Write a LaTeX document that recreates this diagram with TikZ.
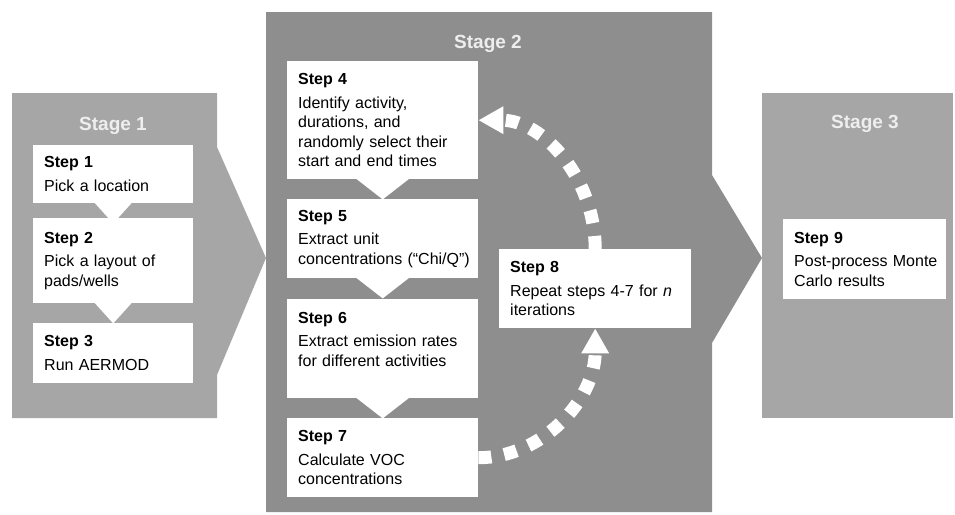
\documentclass[tikz,border=0pt]{standalone}
\usepackage{fontspec}
\setmainfont{Liberation Sans}
\usetikzlibrary{arrows.meta}

\definecolor{stagelight}{RGB}{166,166,166}
\definecolor{stagedark}{RGB}{142,142,142}
\definecolor{stagetext}{RGB}{238,238,238}
\newcommand{\stepfont}{\fontsize{16}{19.5}\selectfont}

\begin{document}
\begin{tikzpicture}[x=1pt,y=-1pt,
        stepbox/.style={fill=white, anchor=north west, align=left, inner xsep=11pt, inner ysep=0pt, font=\stepfont},
        stagelabel/.style={anchor=base, text=stagetext, font=\fontsize{19}{23}\selectfont\bfseries},
        loopline/.style={white, line width=13pt, dash pattern=on 13pt off 13pt, -{Triangle[length=25pt,width=26pt]}}]
        \useasboundingbox (0,0) rectangle (955,514);

        % Draw the stages
        \fill[stagelight] (12,93) -- (217,93) -- (217,147) -- (266,258) -- (217,375) -- (217,418) -- (12,418) -- cycle;
        \fill[stagelight] (762,93) rectangle (953,418);
        \fill[stagedark] (266,12) -- (712,12) -- (712,175) -- (762,258) -- (712,343) -- (712,512) -- (266,512) -- cycle;

        \node[stagelabel] (st1) at (113,130) {Stage 1};
        \node[stagelabel] (st2) at (488,48) {Stage 2};
        \node[stagelabel] (st3) at (865,128) {Stage 3};

        % Define nodes in Stage 1
        \node[stepbox, text width=138pt, minimum height=58pt] (s1) at (33,145) {\textbf{Step 1}\\[4pt]Pick a location};
        \node[stepbox, text width=138pt, minimum height=85pt] (s2) at (33,218) {\textbf{Step 2}\\[4pt]Pick a layout of\\pads/wells};
        \node[stepbox, text width=138pt, minimum height=60pt] (s3) at (33,323) {\textbf{Step 3}\\[4pt]Run AERMOD};

        % Define nodes in Stage 2
        \node[stepbox, text width=169pt, minimum height=118pt] (s4) at (287,61) {\textbf{Step 4}\\[4pt]Identify activity,\\durations, and\\randomly select their\\start and end times};
        \node[stepbox, text width=169pt, minimum height=79pt] (s5) at (287,199) {\textbf{Step 5}\\[4pt]Extract unit\\\mbox{concentrations (“Chi/Q”)}};
        \node[stepbox, text width=169pt, minimum height=99pt] (s6) at (287,299) {\textbf{Step 6}\\[4pt]Extract emission rates\\for different activities\\\mbox{}};
        \node[stepbox, text width=169pt, minimum height=79pt] (s7) at (287,418) {\textbf{Step 7}\\[4pt]Calculate VOC\\concentrations};
        \node[stepbox, text width=170pt, minimum height=79pt] (s8) at (499,249) {\textbf{Step 8}\\[4pt]\mbox{Repeat steps 4-7 for \textit{n}}\\iterations};

        % Define nodes in Stage 3
        \node[stepbox, text width=141pt, minimum height=80pt] (s9) at (783,219) {\textbf{Step 9}\\[4pt]\mbox{Post-process Monte}\\Carlo results};

        % Draw the pointers between steps
        \foreach \a/\w in {s1/19,s2/19,s4/27,s5/27,s6/27}
            \fill[white] ([xshift=-\w pt,yshift=1pt]\a.south) -- ([yshift=-20pt]\a.south) -- ([xshift=\w pt,yshift=1pt]\a.south) -- cycle;

        % Draw the repeat loop
        \draw[loopline] (s7.east) .. controls +(64,0) and +(0,71) .. (s8.south);
        \draw[loopline] (s8.north) .. controls +(0,-70) and +(65,0) .. (s4.east);
    \end{tikzpicture}
\end{document}
